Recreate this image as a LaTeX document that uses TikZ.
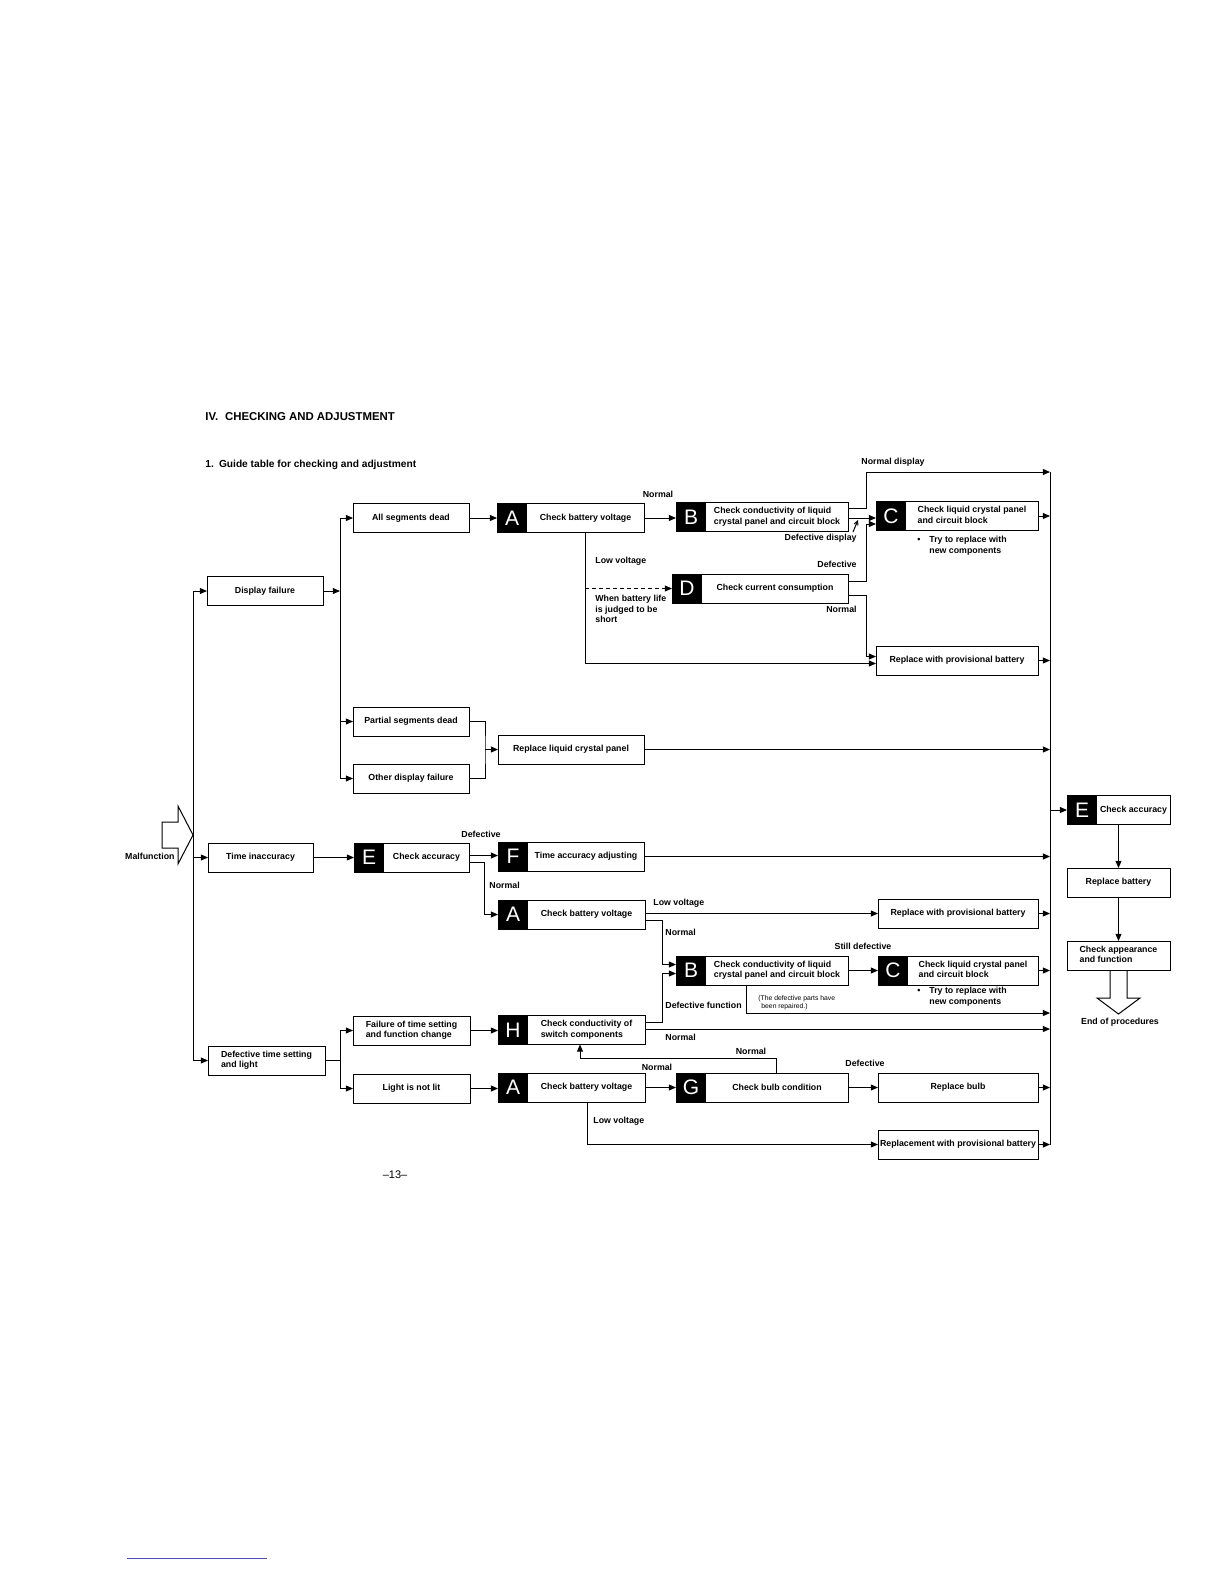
\documentclass[tikz,border=0pt]{standalone}
\usepackage{fontspec}
\setmainfont{Liberation Sans}
\usetikzlibrary{arrows.meta,calc}
\newcommand\bx{\fontsize{4.4}{5.3}\selectfont\bfseries}
\newcommand\twol[1]{\begin{tabular}{@{}l@{}}#1\end{tabular}}
\begin{document}
\begin{tikzpicture}[x=0.5pt,y=-0.5pt,
 box/.style={draw, line width=0.5pt, minimum height=14.5pt, inner sep=0.5pt, outer sep=0pt, font=\bx},
 blk/.style={fill=black, minimum width=15pt, minimum height=14.5pt, inner sep=0pt, outer sep=0pt, text=white, font=\fontsize{10.5}{10.5}\selectfont},
 lab/.style={font=\bx, inner sep=0.5pt},
 ln/.style={line width=0.5pt},
 arr/.style={ln, -{Triangle[length=3.6pt,width=3pt]}},
]
\useasboundingbox (0,0) rectangle (1224,1584);

% titles
\node[anchor=west, font=\fontsize{5.7}{6}\selectfont\bfseries, inner sep=0pt] (title) at (205,417) {IV.\hspace{0.6em}CHECKING AND ADJUSTMENT};
\node[anchor=west, font=\fontsize{5.1}{6}\selectfont\bfseries, inner sep=0pt] (sub) at (205,465) {1.\hspace{0.5em}Guide table for checking and adjustment};

% boxes
\node[box, minimum width=58pt] (dfail) at (265,591) {Display failure};
\node[box, minimum width=58pt] (allseg) at (411,518) {All segments dead};
\node[box, minimum width=73.5pt] (A1) at (570.5,518) {\hspace*{15pt}Check battery voltage};
\node[box, minimum width=86pt] (B1) at (762,517) {\hspace*{15pt}\twol{Check conductivity of liquid\\crystal panel and circuit block}};
\node[box, minimum width=81pt] (C1) at (957,516) {\hspace*{15pt}\twol{Check liquid crystal panel\\and circuit block}};
\node[box, minimum width=88pt] (D1) at (760,588.5) {\hspace*{15pt}Check current consumption};
\node[box, minimum width=81pt] (rpb1) at (957,660.5) {Replace with provisional battery};
\node[box, minimum width=58pt] (partial) at (411,721.5) {Partial segments dead};
\node[box, minimum width=58pt] (other) at (411,778.5) {Other display failure};
\node[box, minimum width=73pt] (rlcp) at (571,749.5) {Replace liquid crystal panel};
\node[box, minimum width=52.5pt] (tinacc) at (260.5,857.5) {Time inaccuracy};
\node[box, minimum width=57.5pt] (E1) at (411.5,857.5) {\hspace*{15pt}Check accuracy};
\node[box, minimum width=73pt] (F1) at (571,856.5) {\hspace*{15pt}Time accuracy adjusting};
\node[box, minimum width=73.5pt] (A2) at (571.5,914.5) {\hspace*{15pt}Check battery voltage};
\node[box, minimum width=80pt] (rpb2) at (958,913.5) {Replace with provisional battery};
\node[box, minimum width=86pt] (B2) at (762,970.5) {\hspace*{15pt}\twol{Check conductivity of liquid\\crystal panel and circuit block}};
\node[box, minimum width=80pt] (C2) at (958,970.5) {\hspace*{15pt}\twol{Check liquid crystal panel\\and circuit block}};
\node[box, minimum width=58.5pt] (failts) at (411.5,1030.5) {\twol{Failure of time setting\\and function change}};
\node[box, minimum width=73.5pt] (H1) at (571.5,1030) {\hspace*{15pt}\twol{Check conductivity of\\switch components}};
\node[box, minimum width=58.5pt] (dtsl) at (266.5,1060.5) {\twol{Defective time setting\\and light}};
\node[box, minimum width=58.5pt] (light) at (411.5,1088.5) {Light is not lit};
\node[box, minimum width=73.5pt] (A3) at (571.5,1087.5) {\hspace*{15pt}Check battery voltage};
\node[box, minimum width=86pt] (G1) at (762,1087.5) {\hspace*{15pt}Check bulb condition};
\node[box, minimum width=80pt] (rbulb) at (958,1087.5) {Replace bulb};
\node[box, minimum width=80pt] (rpb3) at (958,1144.5) {Replacement with provisional battery};
\node[box, minimum width=51.5pt] (E2) at (1118.5,810) {\hspace*{15pt}Check accuracy};
\node[box, minimum width=51.5pt] (rbat) at (1118.5,882.5) {Replace battery};
\node[box, minimum width=51.5pt] (capp) at (1118.5,955.5) {\twol{Check appearance\\and function}};

% letter squares
\node[blk, anchor=north west] (A1k) at (A1.north west) {A};
\node[blk, anchor=north west] (B1k) at (B1.north west) {B};
\node[blk, anchor=north west] (C1k) at (C1.north west) {C};
\node[blk, anchor=north west] (D1k) at (D1.north west) {D};
\node[blk, anchor=north west] (E1k) at (E1.north west) {E};
\node[blk, anchor=north west] (F1k) at (F1.north west) {F};
\node[blk, anchor=north west] (A2k) at (A2.north west) {A};
\node[blk, anchor=north west] (B2k) at (B2.north west) {B};
\node[blk, anchor=north west] (C2k) at (C2.north west) {C};
\node[blk, anchor=north west] (H1k) at (H1.north west) {H};
\node[blk, anchor=north west] (A3k) at (A3.north west) {A};
\node[blk, anchor=north west] (G1k) at (G1.north west) {G};
\node[blk, anchor=north west] (E2k) at (E2.north west) {E};

% coordinates
\coordinate (ctop) at (1050,472);
\coordinate (cbot) at (1050,1144.5);
\coordinate (mvtop) at (193,591);
\coordinate (mvbot) at (193,1060.5);
\coordinate (v2top) at (340,518);
\coordinate (v2bot) at (340,778.5);
\coordinate (v3top) at (340,1030.5);
\coordinate (v3bot) at (340,1088.5);
\coordinate (brk) at (485,749.5);
\coordinate (crep) at (1050,1013);
\coordinate (gfb) at (776,1058);

% malfunction arrow
\draw[line width=0.5pt] (162,822) -- (178,822) -- (178,806) -- (193,835) -- (178,864) -- (178,848) -- (162,848) -- cycle;
\node[lab, anchor=east] (mal) at (176,856) {Malfunction};

% main trunk
\draw[ln] (mvtop) -- (mvbot);
\draw[arr] (mvtop) -- (dfail.west);
\draw[arr] (tinacc.west -| mvtop) -- (tinacc.west);
\draw[arr] (mvbot) -- (dtsl.west);

% display failure branch
\draw[ln] (v2top) -- (v2bot);
\draw[arr] (dfail.east) -- (dfail.east -| v2top);
\draw[arr] (v2top) -- (allseg.west);
\draw[arr] (partial.west -| v2top) -- (partial.west);
\draw[arr] (v2bot) -- (other.west);
\draw[arr] (allseg.east) -- (allseg.east -| A1.west);
\draw[arr] (A1.east) -- (A1.east -| B1.west);
\draw[arr] ([yshift=4.5pt]B1.east) -- ++(18,0) |- (ctop);
\draw[arr] ([yshift=-0.5pt]B1.east) -- ([yshift=-0.5pt]B1.east -| C1.west);
\draw[arr] ([yshift=3.5pt]D1.east) -- ++(18,0) |- ([yshift=-4pt]C1.west);
\draw[arr] ([yshift=-3.5pt]D1.east) -- ++(18,0) |- ([yshift=2pt]rpb1.west);
\draw[arr] ([xshift=7.25pt]A1.south) |- ([yshift=-1.5pt]rpb1.west);
\draw[arr, dash pattern=on 2pt off 1.5pt] ([xshift=7.25pt]A1.south |- D1.west) -- (D1.west);
\draw[arr] (C1.east) -- (C1.east -| ctop);
\draw[arr] (rpb1.east) -- (rpb1.east -| ctop);
\draw[ln] (partial.east) -| (brk) |- (other.east);
\draw[arr] (brk) -- (rlcp.west);
\draw[arr] (rlcp.east) -- (rlcp.east -| ctop);

% time inaccuracy branch
\draw[arr] (tinacc.east) -- (E1.west);
\draw[arr] ([yshift=1pt]E1.east) -- ([yshift=1pt]E1.east -| F1.west);
\draw[arr] ([yshift=-2.5pt]E1.east) -- ++(15,0) |- (A2.west);
\draw[arr] (F1.east) -- (F1.east -| ctop);
\draw[arr] ([yshift=0.5pt]A2.east) -- ([yshift=0.5pt]A2.east -| rpb2.west);
\draw[arr] ([yshift=-3pt]A2.east) -- ++(17,0) |- ([yshift=3pt]B2.west);
\draw[arr] (rpb2.east) -- (rpb2.east -| ctop);
\draw[arr] (B2.east) -- (C2.west);
\draw[arr] (C2.east) -- (C2.east -| ctop);
\draw[arr] ([xshift=-8pt]B2.south) |- (crep);

% defective time setting branch
\draw[ln] (v3top) -- (v3bot);
\draw[ln] (dtsl.east) -- (dtsl.east -| v3top);
\draw[arr] (v3top) -- (failts.west);
\draw[arr] (v3bot) -- (light.west);
\draw[arr] (failts.east) -- (failts.east -| H1.west);
\draw[arr] ([yshift=4pt]H1.east) -- ++(17,0) |- ([yshift=-1.5pt]B2.west);
\draw[arr] ([yshift=0.5pt]H1.east) -- ([yshift=0.5pt]H1.east -| ctop);
\draw[arr] (light.east) -- (light.east -| A3.west);
\draw[arr] (A3.east) -- (G1.west);
\draw[arr] (G1.east) -- (rbulb.west);
\draw[arr] (rbulb.east) -- (rbulb.east -| ctop);
\draw[arr] (G1.north -| gfb) -- (gfb) -| ([xshift=4.25pt]H1.south);
\draw[arr] ([xshift=7.75pt]A3.south) |- (rpb3.west);
\draw[arr] (rpb3.east) -- (rpb3.east -| ctop);

% collector and end column
\draw[ln] (ctop) -- (cbot);
\draw[arr] (E2.west -| ctop) -- (E2.west);
\draw[arr] (E2.south) -- (rbat.north);
\draw[arr] (rbat.south) -- (capp.north);
\draw[line width=0.5pt] (capp.south -| 1110,0) -- (1110,998) -- (1097,998) -- (1118.5,1014) -- (1140,998) -- (1127,998) -- (capp.south -| 1127,0);
\node[lab] (eop) at (1120,1022) {End of procedures};

% labels
\node[lab] (l1) at (658,494) {Normal};
\node[lab] (l2) at (893,462) {Normal display};
\node[lab, anchor=east] (ddlab) at (858,538) {Defective display};
\draw[ln, -{Straight Barb[length=2pt,width=2pt]}] (853,532) -- (858,520);
\node[lab, anchor=west] (l4) at (594,561) {Low voltage};
\node[lab, anchor=north west, align=left] (l5) at (594,594) {When battery life\\is judged to be\\short};
\node[lab, anchor=east] (l6) at (858,564) {Defective};
\node[lab, anchor=east] (l7) at (858,609) {Normal};
\node[lab, anchor=north west, align=left] (bul1) at (916,535) {\makebox[6pt][l]{\textbullet}Try to replace with\\\hspace*{6pt}new components};
\node[lab] (l8) at (481,834) {Defective};
\node[lab, anchor=west] (l9) at (488,885) {Normal};
\node[lab, anchor=west] (l10) at (652,903) {Low voltage};
\node[lab, anchor=west] (l11) at (664,932) {Normal};
\node[lab] (l12) at (863,946) {Still defective};
\node[lab, anchor=north west, align=left] (bul2) at (916,986) {\makebox[6pt][l]{\textbullet}Try to replace with\\\hspace*{6pt}new components};
\node[lab, anchor=west] (l13) at (664,1005) {Defective function};
\node[lab, anchor=west, font=\fontsize{3.4}{4}\selectfont, align=left] (l14) at (757,1003) {(The defective parts have\\\hspace*{1.5pt}been repaired.)};
\node[lab, anchor=west] (l15) at (664,1037) {Normal};
\node[lab] (l16) at (751,1051) {Normal};
\node[lab] (l17) at (657,1067) {Normal};
\node[lab] (l18) at (865,1063) {Defective};
\node[lab, anchor=west] (l19) at (592,1121) {Low voltage};

% page number and bottom rule
\node[font=\fontsize{5.5}{6}\selectfont, inner sep=0pt] (pg) at (395,1175) {--13--};
\draw[line width=0.4pt, color=blue!40!gray] (127,1558) -- (267,1558);
\end{tikzpicture}
\end{document}
